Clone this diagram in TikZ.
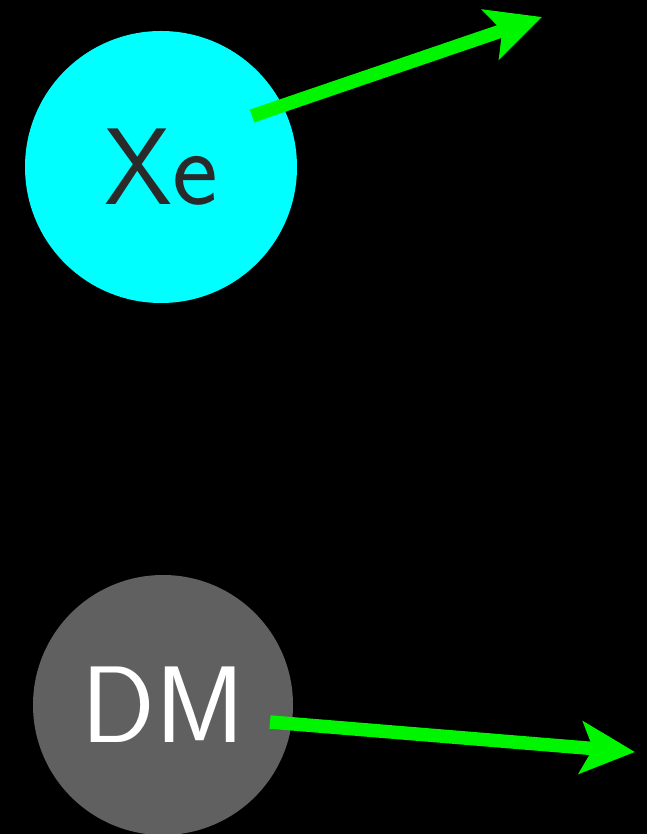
\documentclass[tikz,border=0pt]{standalone}
\usepackage{tikz}
\usetikzlibrary{arrows.meta,positioning,calc}
\usepackage{xcolor}
\definecolor{xecyan}{HTML}{00FFFF}
\definecolor{dmgray}{HTML}{606060}
\definecolor{kickgreen}{HTML}{00F500}
\definecolor{xetext}{HTML}{2A2A2A}

\begin{document}
\begin{tikzpicture}[
  particle/.style={circle, inner sep=0pt, font=\sffamily\fontsize{31}{31}\selectfont},
  xenon/.style={particle, fill=xecyan, text=xetext, minimum size=2.72cm},
  darkmatter/.style={particle, fill=dmgray, text=white, minimum size=2.6cm},
  recoil/.style={line width=0.135cm, draw=kickgreen,
    -{Stealth[length=0.54cm 0, width=0.52cm 0, inset=0.12cm 0, fill=kickgreen]}}
]

% Black background, fixes the page size
\fill[black] (0,0) rectangle (6.47,8.34);
\useasboundingbox (0,0) rectangle (6.47,8.34);

% Xenon nucleus, top
\node[xenon] (xe) at (1.61,6.67) {Xe};
\coordinate (xeout) at (5.42,8.17);

% Dark matter particle, bottom (cut by the page edge)
\begin{scope}
  \clip (0,0) rectangle (6.47,8.34);
  \node[darkmatter] (dm) at (1.63,1.29) {DM};
\end{scope}
\coordinate (dmout) at (6.35,0.82);

% Outgoing momenta
\draw[recoil] ($(xe.center)+(0.91,0.51)$) -- (xeout);
\draw[recoil] ($(dm.center)+(1.07,-0.17)$) -- (dmout);

\end{tikzpicture}
\end{document}
